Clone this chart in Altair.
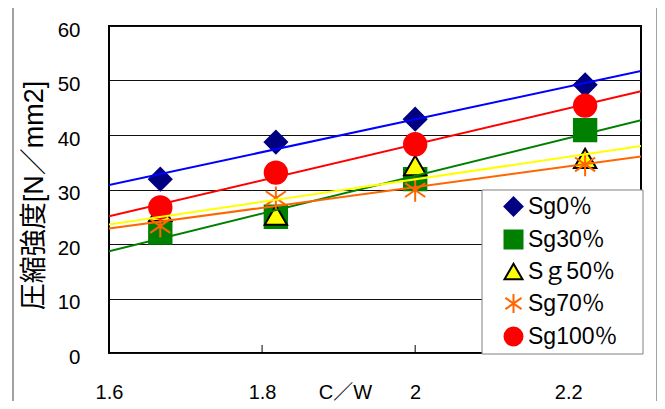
import altair as alt
import pandas as pd

# ---- data ----
cw = [1.667, 1.818, 2.0, 2.222]
series = ["Sg0％", "Sg30％", "Sｇ50％", "Sg70％", "Sg100％"]
sg0 = [31.9, 38.7, 42.9, 49.2]
sg30 = [22.1, 25.0, 31.9, 40.9]
sg50 = [26.0, 25.3, 34.4, 35.7]
sg70 = [23.3, 28.4, 29.9, 34.6]
sg100 = [26.7, 33.1, 38.3, 45.4]
x_ticks = [1.6, 1.8, 2.0, 2.2]
y_ticks = [0, 10, 20, 30, 40, 50, 60]

ASTER = "M0,-1.05L0,1.05M-0.9,-0.62L0.9,0.62M-0.9,0.62L0.9,-0.62"
marker_shapes = ["diamond", "square", "triangle-up", ASTER, "circle"]
marker_fill = ["#000080", "#008000", "#FFFF00", "transparent", "#FF0000"]
marker_stroke = ["#000080", "#008000", "#000000", "#FF6600", "#FF0000"]
line_colors = ["#0000FF", "#008000", "#FFFF00", "#FF6600", "#FF0000"]

values = [sg0, sg30, sg50, sg70, sg100]
rows = []
for name, vals in zip(series, values):
    for x, v in zip(cw, vals):
        rows.append({"series": name, "cw": x, "val": v})
df = pd.DataFrame(rows)

FONT = "Liberation Sans, Arial, Noto Sans CJK JP"
W, H = 532, 327
XDOM = [1.6, 2.295]

xscale = alt.Scale(domain=XDOM, nice=False, zero=False)
yscale = alt.Scale(domain=[0, 60], nice=False, zero=True)

xaxis = alt.Axis(values=x_ticks, format="~g", grid=False, ticks=False, domain=False,
                 labelFlush=False, labelOverlap=False, labelPadding=45,
                 labelBaseline="alphabetic", labelFontSize=20, labelFont=FONT,
                 labelColor="black", title="C／W", titleFontSize=20, titleFont=FONT,
                 titleFontWeight="normal", titleColor="black", titleX=236, titleY=45,
                 titleBaseline="alphabetic", titleAlign="center")
yaxis = alt.Axis(values=y_ticks, grid=True, gridColor="#111111", gridWidth=1,
                 ticks=False, domain=False, labelPadding=29, labelOffset=4,
                 labelFontSize=20.5, labelFont=FONT, labelColor="black",
                 title="圧縮強度[N／mm2]", titleFontSize=27, titleFont=FONT,
                 titleFontWeight="normal", titleColor="black", titleX=-75, titleY=169,
                 titleAngle=270, titleAlign="center", titleBaseline="middle")

legend = alt.Legend(title=None, orient="none", legendX=373, legendY=164, padding=5,
                    symbolOffset=15, labelOffset=3, rowPadding=6, symbolSize=324,
                    symbolStrokeWidth=2, labelFontSize=23, labelFont=FONT,
                    labelColor="black")

points = alt.Chart(df).mark_point(filled=True, opacity=1, size=500, strokeWidth=2).encode(
    x=alt.X("cw:Q", scale=xscale, axis=xaxis),
    y=alt.Y("val:Q", scale=yscale, axis=yaxis),
    shape=alt.Shape("series:N", scale=alt.Scale(domain=series, range=marker_shapes), legend=legend),
    fill=alt.Fill("series:N", scale=alt.Scale(domain=series, range=marker_fill), legend=legend),
    stroke=alt.Stroke("series:N", scale=alt.Scale(domain=series, range=marker_stroke), legend=legend),
)

lines = alt.Chart(df).transform_regression(
    "cw", "val", groupby=["series"], extent=XDOM
).mark_line(strokeWidth=2, clip=True).encode(
    x=alt.X("cw:Q"),
    y=alt.Y("val:Q"),
    color=alt.Color("series:N", scale=alt.Scale(domain=series, range=line_colors), legend=None),
)

ticks = alt.Chart(pd.DataFrame({"cw": x_ticks})).mark_rule(color="black", strokeWidth=1).encode(
    x=alt.X("cw:Q"), y=alt.value(H), y2=alt.value(H - 8)
)

one = pd.DataFrame({"a": [0]})
# legend box (drawn above the data, beneath the legend entries)
legend_box = alt.Chart(one).mark_rect(fill="white", stroke="#808080", strokeWidth=1).encode(
    x=alt.value(373), x2=alt.value(534), y=alt.value(164), y2=alt.value(328))

frame_left = alt.Chart(one).mark_rule(color="#444444", strokeWidth=1).encode(
    x=alt.value(-96), y=alt.value(-19), y2=alt.value(420))
frame_top = alt.Chart(one).mark_rule(color="#444444", strokeWidth=1).encode(
    x=alt.value(-96), x2=alt.value(548), y=alt.value(-19))
frame_right = alt.Chart(one).mark_rule(color="#444444", strokeWidth=1).encode(
    x=alt.value(548), y=alt.value(-19), y2=alt.value(420))

chart = alt.layer(points, lines, ticks, legend_box, frame_left, frame_top, frame_right).properties(
    width=W, height=H,
    padding={"left": 101, "top": 18, "right": 16, "bottom": 48},
    autosize=alt.AutoSizeParams(type="none"),
    background="white",
).configure_view(stroke="black", strokeWidth=2)

chart.save("out.html", embed_options={"renderer": "svg", "actions": False})
